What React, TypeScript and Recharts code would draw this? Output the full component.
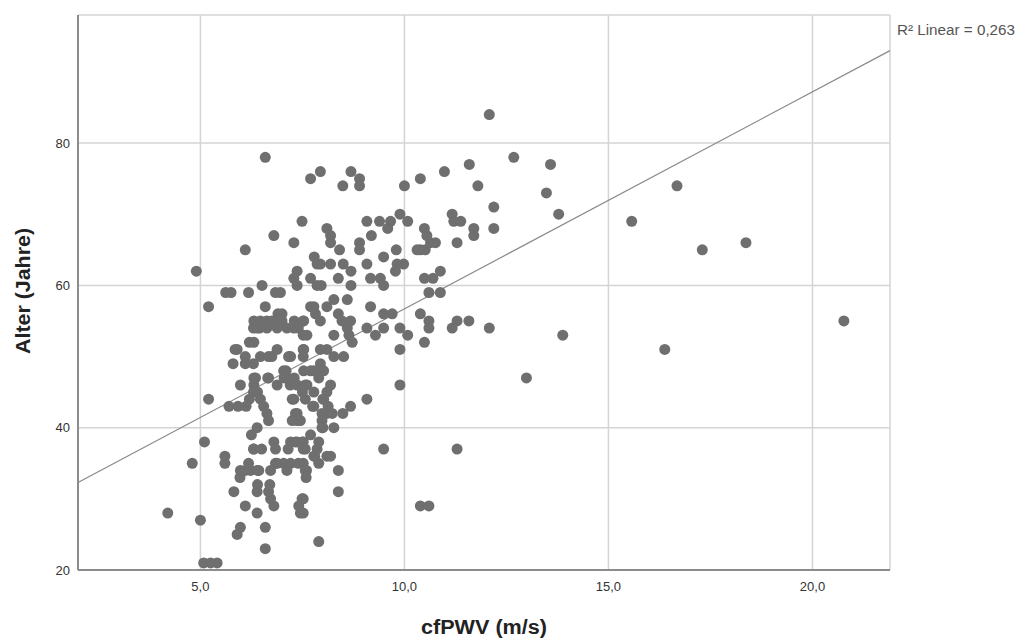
import React from 'react';
import {
  ScatterChart,
  Scatter,
  XAxis,
  YAxis,
  CartesianGrid,
  ReferenceLine,
  Label
} from 'recharts';

// [cfPWV (m/s), Alter (Jahre)] grouped by cfPWV band
const below6: [number, number][] = [
  [4.2, 28], [4.8, 35], [4.9, 62], [5.0, 27], [5.1, 38], [5.08, 21], [5.25, 21], [5.41, 21],
  [5.2, 44], [5.2, 57], [5.6, 36], [5.6, 35], [5.62, 59], [5.75, 59], [5.7, 43], [5.92, 43],
  [5.8, 49], [5.9, 51], [5.85, 51], [5.82, 31], [5.9, 25], [5.98, 26], [5.98, 46], [5.97, 33],
  [5.98, 34]
];

const band6: [number, number][] = [
  [6.1, 65], [6.18, 59], [6.1, 50], [6.2, 52], [6.31, 52], [6.3, 49], [6.1, 49], [6.31, 47],
  [6.35, 47], [6.31, 46], [6.3, 45], [6.2, 44], [6.12, 43], [6.39, 40], [6.25, 39], [6.31, 37],
  [6.3, 37], [6.18, 35], [6.1, 34], [6.23, 34], [6.4, 34], [6.1, 29], [6.39, 28], [6.39, 31],
  [6.4, 32], [6.31, 55], [6.47, 55], [6.39, 54], [6.51, 60], [6.47, 50], [6.47, 44], [6.4, 45],
  [6.5, 37], [6.43, 34], [6.3, 54], [6.45, 54]
];

const band65: [number, number][] = [
  [6.59, 78], [6.8, 67], [6.59, 57], [6.63, 55], [6.63, 54], [6.67, 50], [6.75, 50], [6.65, 47],
  [6.67, 47], [6.63, 42], [6.67, 41], [6.88, 51], [6.9, 56], [7.0, 56], [6.84, 59], [6.96, 59],
  [6.88, 54], [6.88, 46], [6.59, 26], [6.59, 23], [6.67, 31], [6.7, 32], [6.72, 30], [6.8, 29],
  [6.72, 34], [6.88, 35], [6.8, 38], [6.84, 37], [6.84, 35], [6.55, 43], [6.75, 55], [7.0, 55]
];

const band7: [number, number][] = [
  [7.29, 66], [7.29, 61], [7.37, 62], [7.37, 60], [7.49, 69], [7.12, 54], [7.29, 54], [7.21, 50],
  [7.16, 50], [7.04, 48], [7.1, 48], [7.12, 47], [7.05, 47], [7.3, 47], [7.2, 46], [7.37, 46],
  [7.29, 44], [7.25, 44], [7.37, 42], [7.33, 42], [7.37, 41], [7.25, 41], [7.45, 41], [7.04, 35],
  [7.12, 34], [7.21, 35], [7.4, 35], [7.21, 38], [7.37, 38], [7.33, 38], [7.15, 37], [7.49, 30],
  [7.41, 29], [7.45, 28], [7.3, 55], [7.4, 54], [7.5, 45]
];

const band75: [number, number][] = [
  [7.7, 75], [7.94, 76], [7.79, 64], [7.86, 63], [7.94, 63], [7.7, 61], [7.96, 60], [7.86, 60],
  [7.7, 57], [7.82, 56], [7.94, 55], [7.52, 55], [7.53, 55], [7.52, 53], [7.61, 53], [7.52, 51],
  [7.53, 51], [7.52, 50], [7.53, 48], [7.78, 48], [7.94, 49], [8.02, 48], [7.7, 48], [7.9, 47],
  [7.61, 46], [7.57, 46], [7.78, 45], [7.57, 44], [7.78, 43], [7.75, 43], [7.98, 42], [7.98, 41],
  [7.52, 38], [7.52, 37], [7.52, 35], [7.57, 34], [7.59, 33], [7.6, 34], [7.9, 38], [7.7, 39],
  [7.78, 36], [7.9, 35], [7.8, 36], [7.9, 24], [7.52, 30], [7.52, 28], [7.78, 57], [7.94, 51],
  [7.5, 38], [7.57, 37], [7.86, 37]
];

const band8: [number, number][] = [
  [8.1, 68], [8.19, 67], [8.19, 66], [8.19, 63], [8.38, 61], [8.27, 58], [8.1, 57], [8.38, 56],
  [8.47, 55], [8.27, 53], [8.1, 51], [8.27, 50], [8.51, 50], [8.19, 46], [8.1, 45], [8.02, 44],
  [8.0, 44], [8.13, 43], [8.1, 42], [8.23, 42], [8.27, 40], [7.98, 40], [8.0, 40], [8.19, 36],
  [8.1, 36], [8.38, 34], [8.38, 31], [8.49, 74], [8.41, 65], [8.5, 63], [8.49, 42]
];

const band85: [number, number][] = [
  [8.69, 76], [8.9, 75], [8.9, 74], [8.9, 66], [8.9, 65], [8.69, 62], [8.69, 60], [8.6, 58],
  [8.68, 55], [8.6, 54], [8.64, 53], [8.72, 52], [8.68, 43]
];

const band9: [number, number][] = [
  [9.08, 69], [9.19, 67], [9.08, 63], [9.17, 61], [9.17, 57], [9.08, 54], [9.29, 53], [9.08, 44],
  [9.39, 69], [9.41, 61], [9.49, 64], [9.49, 60], [9.49, 56], [9.49, 54], [9.49, 37]
];

const band95: [number, number][] = [
  [9.59, 68], [9.66, 69], [9.89, 70], [9.8, 65], [9.82, 63], [9.98, 63], [9.78, 62], [9.7, 56],
  [9.89, 54], [9.89, 51], [9.89, 46], [10.0, 74], [10.08, 69], [10.08, 53], [10.39, 75],
  [10.49, 68], [10.49, 61], [10.39, 65], [10.31, 65], [10.51, 65], [10.39, 56], [10.49, 52],
  [10.39, 29]
];

const band105: [number, number][] = [
  [10.55, 67], [10.64, 66], [10.76, 66], [10.7, 61], [10.6, 59], [10.6, 55], [10.6, 54],
  [10.88, 62], [10.88, 59], [10.6, 29], [10.98, 76], [11.17, 70], [11.21, 69], [11.38, 69],
  [11.29, 66], [11.59, 77], [11.7, 68], [11.7, 67], [11.8, 74], [11.29, 55], [11.17, 54],
  [11.58, 55], [11.29, 37]
];

const above12: [number, number][] = [
  [12.19, 71], [12.19, 68], [12.08, 54], [12.08, 84], [12.68, 78], [13.58, 77], [13.48, 73],
  [13.78, 70], [13.88, 53], [12.99, 47], [15.57, 69], [16.68, 74], [17.3, 65], [18.37, 66],
  [16.38, 51], [20.77, 55]
];

const xTicks = [5, 10, 15, 20];
const yTicks = [20, 40, 60, 80];
const xDomain: [number, number] = [2.0, 21.9];
const yDomain: [number, number] = [20, 98];

// linear fit shown in the reference
const fitIntercept = 26.2;
const fitSlope = 3.05;
const r2Label = 'R² Linear = 0,263';

const points = [
  ...below6, ...band6, ...band65, ...band7, ...band75, ...band8,
  ...band85, ...band9, ...band95, ...band105, ...above12
].map(([x, y]) => ({ x, y }));

const fitLine = xDomain.map((x) => ({ x, y: fitIntercept + fitSlope * x }));

const fmt = (v: number) => v.toFixed(1).replace('.', ',');

const FONT = '"Liberation Sans", Arial, sans-serif';
const DOT = '#6f6f6f';

const Dot = (props: any) => (
  <circle cx={props.cx} cy={props.cy} r={5.5} fill={DOT} />
);

export default function App() {
  return (
    <div style={{ position: 'absolute', left: 0, top: 0, width: 1017, height: 640, background: '#fff' }}>
      <ScatterChart
        width={1017}
        height={640}
        margin={{ top: 15, right: 127, bottom: 0, left: 0 }}
        style={{ fontFamily: FONT }}
      >
        <CartesianGrid stroke="#d4d4d4" strokeWidth={1.5} />
        <XAxis
          type="number"
          dataKey="x"
          domain={xDomain}
          ticks={xTicks}
          tickFormatter={fmt}
          allowDataOverflow
          height={70}
          tickLine={false}
          tickMargin={6}
          axisLine={{ stroke: '#8c8c8c', strokeWidth: 2 }}
          tick={{ fill: '#333', fontSize: 13, fontFamily: FONT }}
        >
          <Label
            content={() => (
              <text
                x={484}
                y={634}
                textAnchor="middle"
                fontSize={20}
                fontWeight="bold"
                fill="#222"
                fontFamily={FONT}
                textLength={126}
                lengthAdjust="spacingAndGlyphs"
              >
                cfPWV (m/s)
              </text>
            )}
          />
        </XAxis>
        <YAxis
          type="number"
          dataKey="y"
          domain={yDomain}
          ticks={yTicks}
          allowDataOverflow
          width={78}
          tickLine={false}
          axisLine={{ stroke: '#8c8c8c', strokeWidth: 2 }}
          tick={{ fill: '#333', fontSize: 13, fontFamily: FONT }}
        >
          <Label
            content={() => (
              <text
                x={30}
                y={291}
                transform="rotate(-90, 30, 291)"
                textAnchor="middle"
                fontSize={20}
                fontWeight="bold"
                fill="#222"
                fontFamily={FONT}
                textLength={126}
                lengthAdjust="spacingAndGlyphs"
              >
                Alter (Jahre)
              </text>
            )}
          />
        </YAxis>
        <ReferenceLine
          segment={fitLine}
          stroke="#8a8a8a"
          strokeWidth={1.2}
          ifOverflow="visible"
        >
          <Label
            content={() => (
              <text
                x={897}
                y={35}
                textAnchor="start"
                fontSize={14}
                fill="#555"
                fontFamily={FONT}
                textLength={118}
                lengthAdjust="spacingAndGlyphs"
              >
                {r2Label}
              </text>
            )}
          />
        </ReferenceLine>
        <Scatter data={points} shape={<Dot />} isAnimationActive={false} />
      </ScatterChart>
    </div>
  );
}
